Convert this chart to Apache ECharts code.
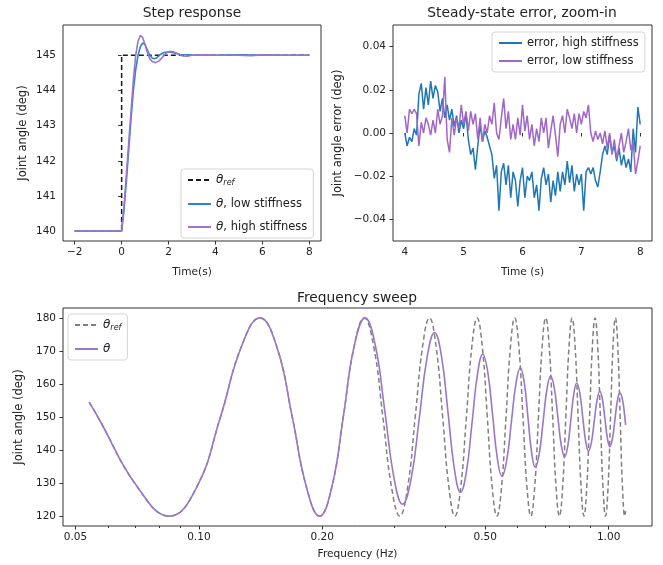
<!DOCTYPE html>
<html>
<head>
<meta charset="utf-8">
<script src="https://cdn.jsdelivr.net/npm/echarts@6/dist/echarts.min.js"></script>
<style>html,body{margin:0;padding:0;background:#fff}#c{width:663px;height:565px}</style>
</head>
<body>
<div id="c"></div>
<script>
// ---------- Step response ----------
const stepRefTime = [-2, 0, 0, 8];
const stepRefDeg = [140, 140, 145, 145];
const stepLowTime = [-2, 0, 0.1, 0.2, 0.3, 0.4, 0.5, 0.6, 0.7, 0.8, 0.9, 1.0, 1.1, 1.2, 1.3, 1.4, 1.5, 1.65, 1.8, 2.0, 2.2, 2.5, 3.0, 4, 5, 6, 7, 8];
const stepLowDeg = [140, 140, 140.6, 141.4, 142.3, 143.2, 144.0, 144.6, 145.0, 145.25, 145.35, 145.3, 145.15, 145.0, 144.92, 144.9, 144.93, 145.02, 145.08, 145.1, 145.07, 145.02, 145.0, 145.0, 145.01, 145.0, 145.0, 145.0];
const stepHighTime = [-2, 0, 0.1, 0.2, 0.3, 0.4, 0.5, 0.6, 0.7, 0.8, 0.9, 1.0, 1.1, 1.2, 1.3, 1.45, 1.6, 1.75, 1.9, 2.05, 2.2, 2.4, 2.6, 2.8, 3.0, 3.5, 4, 5, 5.5, 6, 7, 8];
const stepHighDeg = [140, 140, 140.7, 141.6, 142.5, 143.4, 144.3, 145.0, 145.4, 145.57, 145.5, 145.3, 145.08, 144.9, 144.82, 144.79, 144.84, 144.95, 145.06, 145.11, 145.1, 145.04, 144.98, 144.97, 145.0, 145.01, 145.0, 145.0, 144.99, 145.01, 145.0, 145.0];
const stepXTicks = [-2, 0, 2, 4, 6, 8];
const stepYTicks = [140, 141, 142, 143, 144, 145];

// ---------- Steady-state error ----------
const errTime = [4.00,4.04,4.08,4.12,4.16,4.20,4.24,4.28,4.32,4.36,4.40,4.44,4.48,4.52,4.56,4.60,4.64,4.68,4.72,4.76,4.80,4.84,4.88,4.92,4.96,
5.00,5.04,5.08,5.12,5.16,5.20,5.24,5.28,5.32,5.36,5.40,5.44,5.48,5.52,5.56,5.60,5.64,5.68,5.72,5.76,5.80,5.84,5.88,5.92,5.96,
6.00,6.04,6.08,6.12,6.16,6.20,6.24,6.28,6.32,6.36,6.40,6.44,6.48,6.52,6.56,6.60,6.64,6.68,6.72,6.76,6.80,6.84,6.88,6.92,6.96,
7.00,7.04,7.08,7.12,7.16,7.20,7.24,7.28,7.32,7.36,7.40,7.44,7.48,7.52,7.56,7.60,7.64,7.68,7.72,7.76,7.80,7.84,7.88,7.92,7.96,8.00];
const errHigh = [0.000,-0.006,-0.002,-0.004,0.002,-0.001,0.018,0.023,0.011,0.021,0.013,0.024,0.016,0.022,0.019,0.010,0.016,0.007,0.013,0.006,0.011,0.003,0.008,0.000,0.006,
0.002,0.009,-0.003,-0.010,-0.007,-0.017,-0.006,0.004,-0.004,0.001,-0.002,-0.006,-0.010,-0.021,-0.015,-0.036,-0.018,-0.014,-0.024,-0.015,-0.030,-0.018,-0.022,-0.034,-0.022,
-0.016,-0.030,-0.020,-0.022,-0.018,-0.030,-0.024,-0.036,-0.021,-0.016,-0.024,-0.019,-0.032,-0.022,-0.029,-0.018,-0.027,-0.018,-0.024,-0.013,-0.023,-0.015,-0.027,-0.019,-0.024,
-0.019,-0.036,-0.018,-0.016,-0.019,-0.016,-0.022,-0.025,-0.018,-0.010,-0.006,-0.010,-0.001,-0.009,-0.006,-0.013,-0.007,-0.015,-0.010,-0.016,-0.012,-0.018,0.002,-0.009,0.012,0.004];
const errLow = [0.008,0.000,0.011,0.009,0.011,0.009,-0.006,0.005,0.000,0.007,0.004,-0.001,0.006,0.000,0.011,0.004,0.008,0.026,-0.003,-0.009,0.007,-0.001,0.007,0.002,0.013,
0.004,0.010,0.001,0.010,0.004,0.009,-0.003,0.007,-0.004,0.004,0.000,0.008,0.004,0.014,0.000,-0.003,0.007,0.016,0.002,0.010,-0.003,0.004,-0.003,0.007,-0.001,
0.013,0.001,0.008,-0.003,0.004,-0.006,0.002,-0.004,0.007,0.000,0.007,-0.007,0.001,0.008,-0.001,-0.011,0.004,0.008,0.000,0.011,0.007,0.002,0.009,0.000,0.009,
0.004,0.010,0.007,0.013,0.000,-0.004,0.001,-0.003,0.000,-0.005,0.001,-0.007,0.000,-0.010,-0.003,-0.012,-0.006,0.000,-0.009,-0.004,0.002,-0.008,-0.004,-0.019,-0.013,-0.006];
const errXTicks = [4, 5, 6, 7, 8];
const errYTicks = [-0.04, -0.02, 0, 0.02, 0.04];

// ---------- Frequency sweep ----------
const sweepRefFreq = [0.054,0.0567,0.0708,0.0848,0.0988,0.1129,0.1269,0.1409,0.1550,0.1690,0.1830,0.1970,0.2111,0.2251,0.2391,0.2532,0.2672,0.2812,0.2952,0.3093,0.3233,0.3373,0.3514,0.3654,0.3794,0.3935,0.4075,0.4215,0.4356,0.4496,0.4636,0.4776,0.4917,0.5057,0.5197,0.5338,0.5478,0.5618,0.5759,0.5899,0.6039,0.6179,0.6320,0.6460,0.6600,0.6741,0.6881,0.7021,0.7162,0.7302,0.7442,0.7582,0.7723,0.7863,0.8003,0.8144,0.8284,0.8424,0.8565,0.8705,0.8845,0.8985,0.9126,0.9266,0.9406,0.9547,0.9687,0.9827,0.9968,1.0108,1.0248,1.0388,1.0529,1.0669,1.0809,1.0950,1.10];
const sweepRefDeg = [154.5,150,128.8,
120,128.8,150,171.2,180,171.2,150,128.8,
120,128.8,150,171.2,180,171.2,150,128.8,
120,128.8,150,171.2,180,171.2,150,128.8,
120,128.8,150,171.2,180,171.2,150,128.8,
120,128.8,150,171.2,180,171.2,150,128.8,
120,128.8,150,171.2,180,171.2,150,128.8,
120,128.8,150,171.2,180,171.2,150,128.8,
120,128.8,150,171.2,180,171.2,150,128.8,
120,128.8,150,171.2,180,171.2,150,128.8,
120,121.5];
const sweepFreq = [0.054,0.0567,0.0708,0.0848,0.0988,0.1129,0.1269,0.1409,0.1550,0.1690,0.1830,0.1970,0.2111,0.2251,0.2391,0.2545,0.2694,0.2843,0.2991,0.314,0.3295,0.345,0.3605,0.376,0.3908,0.4055,0.4203,0.435,0.4495,0.464,0.4785,0.493,0.507,0.521,0.535,0.549,0.564,0.579,0.594,0.609,0.6223,0.6355,0.6488,0.662,0.677,0.692,0.707,0.722,0.7368,0.7515,0.7663,0.781,0.7948,0.8085,0.8223,0.836,0.8503,0.8645,0.8788,0.893,0.9078,0.9225,0.9373,0.952,0.9658,0.9795,0.9933,1.007,1.0215,1.036,1.0505,1.065,1.08,1.092,1.10];
const sweepDeg = [154.5,150,128.8,120,128.8,150,171.2,180,171.2,150,128.8,120,128.8,150,171.2,180,171.8,151.8,131.8,123.6,131.2,149.6,168.0,175.6,168.5,151.4,134.3,127.2,133.3,148.1,162.9,169,163.6,150.6,137.5,132.1,136.9,148.5,160.1,164.9,160.5,149.9,139.2,134.8,138.8,148.6,158.4,162.4,158.8,150.2,141.5,137.9,141.2,149.1,157.0,160.3,157.3,150.0,142.7,139.7,142.3,148.8,155.2,157.8,155.3,149.4,143.5,141.0,143.4,149.2,154.9,157.3,155.5,151.5,147.6];
const sweepXMajor = [0.05, 0.1, 0.2, 0.5, 1.0];
const sweepXMinor = [0.06, 0.07, 0.08, 0.09, 0.3, 0.4, 0.6, 0.7, 0.8, 0.9];
const sweepYTicks = [120, 130, 140, 150, 160, 170, 180];

const pairs = (xs, ys) => xs.map((x, i) => [x, ys[i]]);
const FONT = 'DejaVu Sans';
const TXT = '#222';
const minus = v => String(v).replace('-', '\u2212');

function vAxis(grid, extra) {
  return Object.assign({
    gridIndex: grid, type: 'value', scale: true,
    splitLine: { show: false },
    axisLine: { show: false },
    axisTick: { show: true, inside: false, length: 3.5, lineStyle: { color: '#333', width: 1 } },
    axisLabel: { color: TXT, fontSize: 10.5, fontFamily: FONT },
    nameLocation: 'middle',
    nameTextStyle: { color: TXT, fontSize: 10.6, fontFamily: FONT }
  }, extra);
}
const yNameStyle = { color: TXT, fontSize: 11.5, fontFamily: FONT };

const richLegend = {
  it: { fontStyle: 'italic', fontSize: 12, fontFamily: FONT, color: TXT },
  sub: { fontStyle: 'italic', fontSize: 8, fontFamily: FONT, color: TXT, padding: [6, 0, 0, 0] },
  n: { fontSize: 11.5, fontFamily: FONT, color: TXT }
};
const legendNames = {
  'ref': '{it|θ}{sub|ref}',
  'low': '{it|θ}{n|, low stiffness}',
  'high': '{it|θ}{n|, high stiffness}',
  'th': '{it|θ}',
  'sref': '{it|θ}{sub|ref}'
};
const legendBase = {
  orient: 'vertical', itemWidth: 23, itemHeight: 10,
  borderColor: '#d5d5d5', borderWidth: 1, borderRadius: 3,
  backgroundColor: 'rgba(255,255,255,0.85)', padding: [5, 6],
  itemStyle: { opacity: 0 },
  textStyle: { color: TXT, fontSize: 11.5, fontFamily: FONT, rich: richLegend }
};

const C_BLUE = '#2f86c4';
const C_PURP = '#9d73cf';
const C_BLUE2 = '#1f77b4';
const C_PURP2 = '#a066c8';
const C_PURP3 = '#9a78c6';
const titleStyle = { fontSize: 13.8, fontWeight: 'normal', color: TXT, fontFamily: FONT };

const option = {
  animation: false,
  backgroundColor: '#fff',
  title: [
    { text: 'Step response', left: 192, top: 6, textAlign: 'center', padding: 0, textStyle: titleStyle },
    { text: 'Steady-state error, zoom-in', left: 522, top: 6, textAlign: 'center', padding: 0, textStyle: titleStyle },
    { text: 'Frequency sweep', left: 357, top: 291, textAlign: 'center', padding: 0, textStyle: titleStyle }
  ],
  grid: [
    { left: 63, top: 25, width: 258, height: 216, show: true, borderColor: '#333', borderWidth: 1 },
    { left: 393, top: 25, width: 259, height: 216, show: true, borderColor: '#333', borderWidth: 1 },
    { left: 63, top: 308, width: 589, height: 218, show: true, borderColor: '#333', borderWidth: 1 }
  ],
  legend: [
    Object.assign({}, legendBase, { left: 181, top: 169, itemGap: 11, data: ['ref', 'low', 'high'], formatter: n => legendNames[n] }),
    Object.assign({}, legendBase, { left: 492, top: 32, itemGap: 6, data: ['error, high stiffness', 'error, low stiffness'] }),
    Object.assign({}, legendBase, { left: 68, top: 314, itemGap: 11, data: ['sref', 'th'], formatter: n => legendNames[n] })
  ],
  xAxis: [
    vAxis(0, { min: -2.5, max: 8.5, name: 'Time(s)', nameGap: 26,
      axisLabel: { color: TXT, fontSize: 10.5, fontFamily: FONT, margin: 6, customValues: stepXTicks, formatter: minus },
      axisTick: { show: true, length: 3.5, lineStyle: { color: '#333' }, customValues: stepXTicks } }),
    vAxis(1, { min: 3.8, max: 8.2, name: 'Time (s)', nameGap: 26,
      axisLabel: { color: TXT, fontSize: 10.5, fontFamily: FONT, margin: 6, customValues: errXTicks },
      axisTick: { show: true, length: 3.5, lineStyle: { color: '#333' }, customValues: errXTicks } }),
    { gridIndex: 2, type: 'log', logBase: 10, min: 0.0466, max: 1.276,
      splitLine: { show: false }, axisLine: { show: false },
      name: 'Frequency (Hz)', nameLocation: 'middle', nameGap: 23,
      nameTextStyle: { color: TXT, fontSize: 10.6, fontFamily: FONT },
      axisLabel: { color: TXT, fontSize: 10.5, fontFamily: FONT, margin: 6, customValues: sweepXMajor, formatter: v => Number(v).toFixed(2) },
      axisTick: { show: true, length: 3.5, lineStyle: { color: '#333' }, customValues: sweepXMajor } },
    { gridIndex: 2, type: 'log', logBase: 10, min: 0.0466, max: 1.276, position: 'bottom',
      splitLine: { show: false }, axisLine: { show: false },
      axisLabel: { show: false },
      axisTick: { show: true, length: 2, lineStyle: { color: '#333' }, customValues: sweepXMinor } }
  ],
  yAxis: [
    vAxis(0, { min: 139.72, max: 145.86, name: 'Joint angle (deg)', nameGap: 34, nameTextStyle: yNameStyle,
      axisLabel: { color: TXT, fontSize: 10.5, fontFamily: FONT, margin: 7, customValues: stepYTicks },
      axisTick: { show: true, length: 3.5, lineStyle: { color: '#333' }, customValues: stepYTicks } }),
    vAxis(1, { min: -0.05, max: 0.05, name: 'Joint angle error (deg)', nameGap: 49, nameTextStyle: yNameStyle,
      axisLabel: { color: TXT, fontSize: 10.5, fontFamily: FONT, margin: 7, customValues: errYTicks, formatter: v => minus(Number(v).toFixed(2)) },
      axisTick: { show: true, length: 3.5, lineStyle: { color: '#333' }, customValues: errYTicks } }),
    vAxis(2, { min: 117, max: 183, name: 'Joint angle (deg)', nameGap: 34, nameTextStyle: yNameStyle,
      axisLabel: { color: TXT, fontSize: 10.5, fontFamily: FONT, margin: 7, customValues: sweepYTicks },
      axisTick: { show: true, length: 3.5, lineStyle: { color: '#333' }, customValues: sweepYTicks } })
  ],
  series: [
    { name: 'ref', type: 'line', xAxisIndex: 0, yAxisIndex: 0, data: pairs(stepRefTime, stepRefDeg), symbol: 'none',
      lineStyle: { color: '#1a1a1a', width: 1.5, type: [5, 3] }, itemStyle: { color: '#1a1a1a' } },
    { name: 'low', type: 'line', xAxisIndex: 0, yAxisIndex: 0, data: pairs(stepLowTime, stepLowDeg), symbol: 'none',
      lineStyle: { color: C_BLUE, width: 1.6 }, itemStyle: { color: C_BLUE } },
    { name: 'high', type: 'line', xAxisIndex: 0, yAxisIndex: 0, data: pairs(stepHighTime, stepHighDeg), symbol: 'none',
      lineStyle: { color: C_PURP, width: 1.6 }, itemStyle: { color: C_PURP } },
    { name: 'error, high stiffness', type: 'line', xAxisIndex: 1, yAxisIndex: 1, data: pairs(errTime, errHigh), symbol: 'none',
      lineStyle: { color: C_BLUE2, width: 1.5 }, itemStyle: { color: C_BLUE2 } },
    { name: 'error, low stiffness', type: 'line', xAxisIndex: 1, yAxisIndex: 1, data: pairs(errTime, errLow), symbol: 'none',
      lineStyle: { color: C_PURP2, width: 1.5 }, itemStyle: { color: C_PURP2 } },
    { name: 'sref', type: 'line', xAxisIndex: 2, yAxisIndex: 2, data: pairs(sweepRefFreq, sweepRefDeg), symbol: 'none', smooth: 0.45,
      lineStyle: { color: '#808080', width: 1.5, type: [5, 3] }, itemStyle: { color: '#808080' } },
    { name: 'th', type: 'line', xAxisIndex: 2, yAxisIndex: 2, data: pairs(sweepFreq, sweepDeg), symbol: 'none', smooth: 0.45,
      lineStyle: { color: C_PURP3, width: 1.6 }, itemStyle: { color: C_PURP3 } }
  ]
};
const chart = echarts.init(document.getElementById('c'), null, { renderer: 'canvas' });
chart.setOption(option);
</script>
</body>
</html>
